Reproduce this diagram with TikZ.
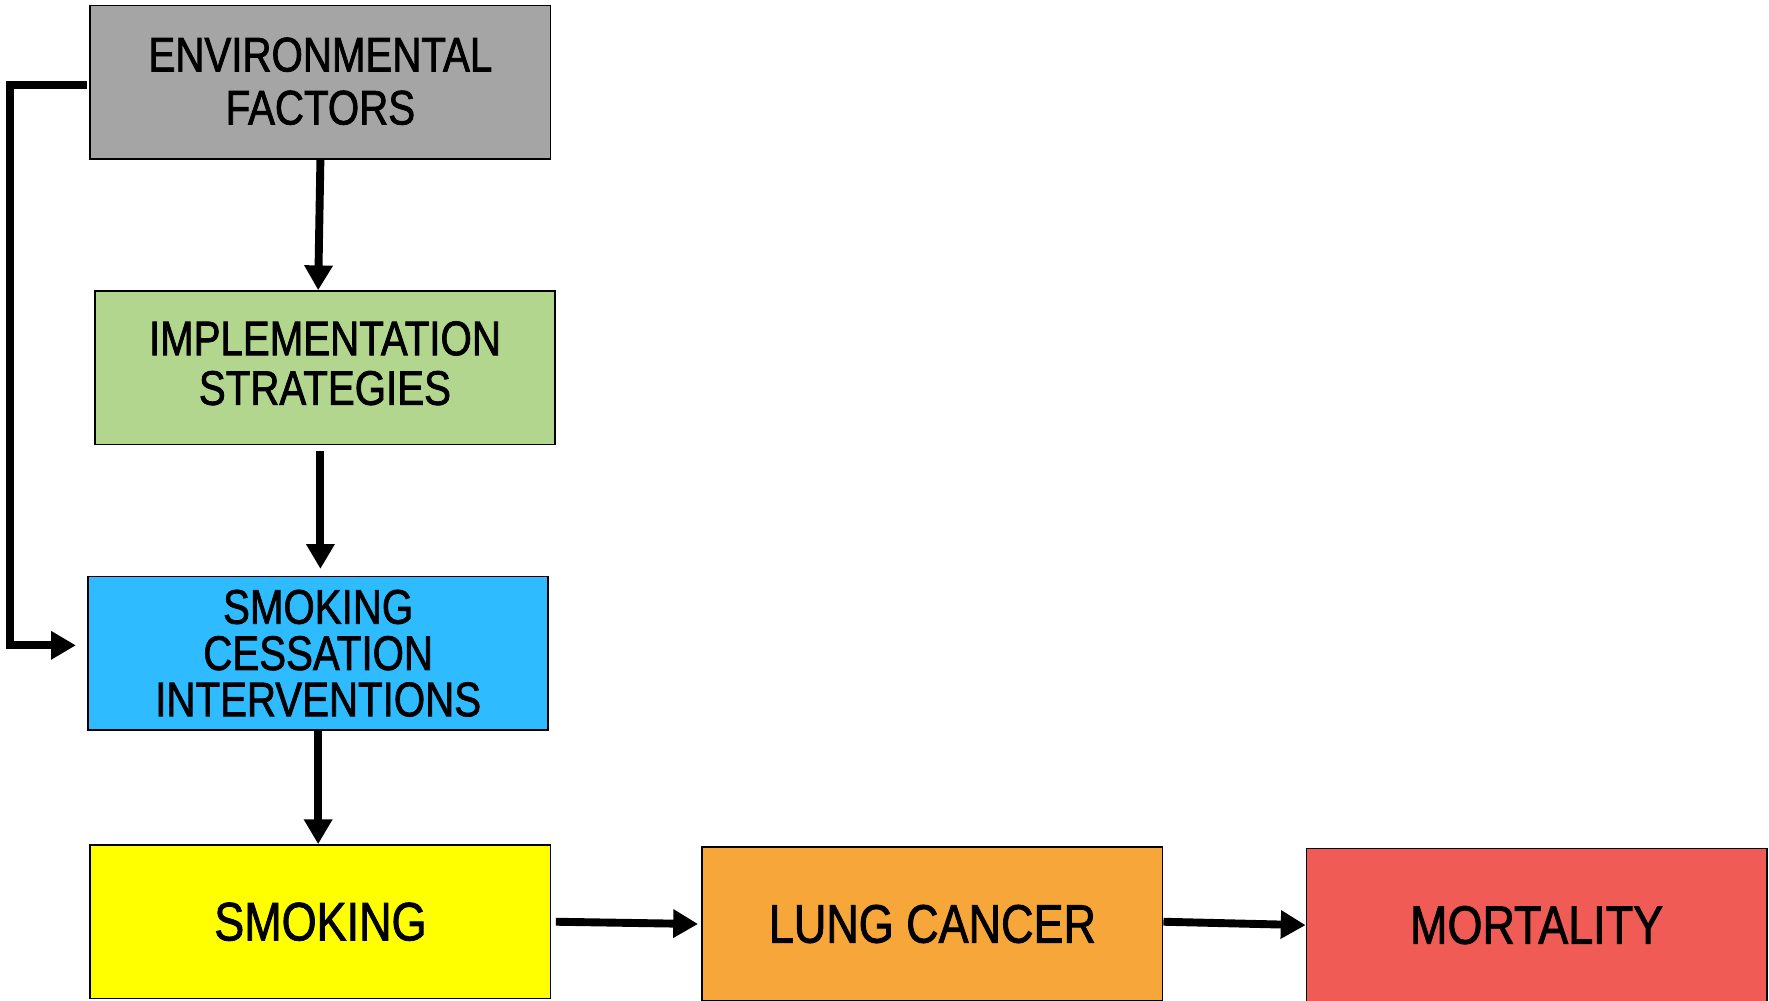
\documentclass[tikz,border=0pt]{standalone}
\usepackage{fontspec}
\newfontfamily\narrowfont[FakeStretch=0.83,FakeBold=1.5]{Liberation Sans}
\usetikzlibrary{arrows.meta}
\definecolor{envgray}{HTML}{A5A5A5}
\definecolor{implgreen}{HTML}{B2D68D}
\definecolor{sciblue}{HTML}{2FBBFF}
\definecolor{smokeyellow}{HTML}{FFFF00}
\definecolor{lungorange}{HTML}{F7A63A}
\definecolor{mortred}{HTML}{F15B55}
\tikzset{
  box/.style={draw=black, line width=1.5pt, rectangle, minimum width=408pt, minimum height=136pt,
    inner sep=0pt, align=center},
  small/.style={align=center, inner sep=0pt, font=\narrowfont\fontsize{43}{#1}\selectfont},
  big/.style={font=\narrowfont\fontsize{48}{50}\selectfont},
  conn/.style={line width=7pt, -{Triangle[width=24pt,length=22pt]}}
}
\begin{document}
\begin{tikzpicture}[x=1pt,y=-1pt]
\useasboundingbox (0,0) rectangle (1568,887);
\node[box, fill=envgray] (env) at (284,73) {};
\node[small=47] (envt) at (284,72) {ENVIRONMENTAL\\FACTORS};
\node[box, fill=implgreen] (impl) at (288,326) {};
\node[small=44] (implt) at (288,322) {IMPLEMENTATION\\STRATEGIES};
\node[box, fill=sciblue] (sci) at (282,579) {};
\node[small=41] (scit) at (282,579) {SMOKING\\CESSATION\\INTERVENTIONS};
\node[box, fill=smokeyellow, big] (smoke) at (284,817) {SMOKING};
\node[box, fill=lungorange, big] (lung) at (826.5,819) {LUNG CANCER};
\node[box, fill=mortred, big] (mort) at (1362,820) {MORTALITY};
\draw[conn] (env.south) -- ([xshift=-6pt]impl.north);
\draw[conn] ([xshift=-4pt,yshift=-5pt]impl.south) -- ([xshift=2pt,yshift=6pt]sci.north);
\draw[conn] (sci.south) -- (smoke.north -| sci.south);
\draw[conn] ([xshift=4pt]smoke.east) -- ([xshift=-3pt]lung.west);
\draw[conn] ([yshift=2pt]lung.east) -- (mort.west);
\draw[conn] ([xshift=-2pt,yshift=-2pt]env.west) -- ++(-68,0) |- ([xshift=-10pt,yshift=7pt]sci.west);
\end{tikzpicture}
\end{document}
